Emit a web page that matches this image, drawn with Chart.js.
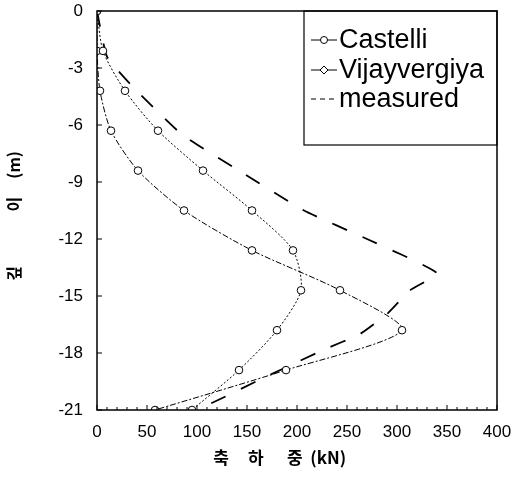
<!DOCTYPE html>
<html>
<head>
<meta charset="utf-8">
<script src="https://cdn.jsdelivr.net/npm/chart.js@4.4.1/dist/chart.umd.min.js"></script>
<style>
  html, body { margin: 0; padding: 0; background: #fff; }
  #wrap { width: 530px; height: 486px; position: relative; }
</style>
</head>
<body>
<div id="wrap"><canvas id="loadChart"></canvas></div>
<script>
// depth of each calculated point (m)
const depths = [0, -2.1, -4.2, -6.3, -8.4, -10.5, -12.6, -14.7, -16.8, -18.9, -21];
// axial load (kN) by method
const castelliLoad = [0, 6, 28, 61, 106, 155, 196, 204, 180, 142, 95];
const vijayLoad = [0, 0, 3, 14, 41, 87, 155, 243, 305, 189, 58];
// measured profile
const measuredLoad = [0, 10, 36, 85, 145, 207, 270, 340, 313, 291, 263, 228, 163, 128, 100];
const measuredDepth = [0, -2.4, -4, -6.5, -8.5, -10.5, -12, -13.8, -14.7, -15.9, -17, -17.8, -19.4, -20.3, -21];
// axis ticks
const xTicks = [0, 50, 100, 150, 200, 250, 300, 350, 400];
const yTicks = [0, -3, -6, -9, -12, -15, -18, -21];
const seriesNames = ['Castelli', 'Vijayvergiya', 'measured'];

function toPoints(xs, ys) {
  return xs.map((x, i) => ({ x: x, y: ys[i] }));
}

// frame around plot area plus small inward ticks
const framePlugin = {
  id: 'frame',
  afterDraw(chart) {
    const { ctx, chartArea: a, scales } = chart;
    ctx.save();
    ctx.strokeStyle = '#000';
    ctx.lineWidth = 1.5;
    ctx.strokeRect(a.left, a.top, a.right - a.left, a.bottom - a.top);
    ctx.lineWidth = 1;
    ctx.beginPath();
    for (let v = 0; v <= 400; v += 10) {
      const px = scales.x.getPixelForValue(v);
      const len = v % 50 === 0 ? 5 : 3;
      ctx.moveTo(px, a.bottom);
      ctx.lineTo(px, a.bottom - len);
    }
    yTicks.forEach(v => {
      const py = scales.y.getPixelForValue(v);
      ctx.moveTo(a.left, py);
      ctx.lineTo(a.left + 5, py);
    });
    ctx.stroke();
    ctx.restore();
  }
};

// boxed legend inside the top right corner
const boxLegend = {
  id: 'boxLegend',
  afterDraw(chart) {
    const { ctx, chartArea: a } = chart;
    const left = 304, top = a.top, right = a.right, bottom = 145;
    ctx.save();
    ctx.strokeStyle = '#000';
    ctx.lineWidth = 1.2;
    ctx.strokeRect(left, top, right - left, bottom - top);
    const rows = [40, 70, 99];
    chart.data.datasets.forEach((ds, i) => {
      const y = rows[i];
      ctx.lineWidth = 1;
      ctx.setLineDash(i === 2 ? [5, 4] : []);
      ctx.beginPath();
      ctx.moveTo(311, y);
      ctx.lineTo(337, y);
      ctx.stroke();
      ctx.setLineDash([]);
      if (i === 0) {
        ctx.fillStyle = '#fff';
        ctx.beginPath();
        ctx.arc(324, y, 3.5, 0, Math.PI * 2);
        ctx.fill();
        ctx.stroke();
      } else if (i === 1) {
        ctx.fillStyle = '#fff';
        ctx.beginPath();
        ctx.moveTo(324, y - 4);
        ctx.lineTo(328, y);
        ctx.lineTo(324, y + 4);
        ctx.lineTo(320, y);
        ctx.closePath();
        ctx.fill();
        ctx.stroke();
      }
      ctx.fillStyle = '#000';
      ctx.font = '27px "Liberation Sans", Arial, sans-serif';
      ctx.textBaseline = 'middle';
      ctx.fillText(ds.label, 339, y + 1);
    });
    ctx.restore();
  }
};

new Chart(document.getElementById('loadChart'), {
  type: 'scatter',
  data: {
    datasets: [
      {
        label: seriesNames[0],
        data: toPoints(castelliLoad, depths),
        showLine: true,
        borderColor: '#000',
        borderWidth: 1,
        borderDash: [2, 2],
        tension: 0.25,
        pointStyle: 'circle',
        pointRadius: 3.8,
        pointBackgroundColor: '#fff',
        pointBorderColor: '#000',
        pointBorderWidth: 1
      },
      {
        label: seriesNames[1],
        data: toPoints(vijayLoad, depths),
        showLine: true,
        borderColor: '#000',
        borderWidth: 1,
        borderDash: [6, 2, 2, 2],
        tension: 0.25,
        pointStyle: 'circle',
        pointRadius: 3.8,
        pointBackgroundColor: '#fff',
        pointBorderColor: '#000',
        pointBorderWidth: 1
      },
      {
        label: seriesNames[2],
        data: toPoints(measuredLoad, measuredDepth),
        showLine: true,
        borderColor: '#000',
        borderWidth: 1.8,
        borderDash: [16, 17],
        tension: 0.15,
        pointRadius: 0
      }
    ]
  },
  options: {
    responsive: true,
    maintainAspectRatio: false,
    animation: false,
    layout: { padding: { top: 0, right: 33, left: 0, bottom: 0 } },
    plugins: {
      legend: { display: false },
      tooltip: { enabled: false }
    },
    scales: {
      x: {
        type: 'linear',
        min: 0,
        max: 400,
        afterBuildTicks: s => { s.ticks = xTicks.map(v => ({ value: v })); },
        afterFit: s => { s.height = 76; },
        grid: { display: false, drawTicks: false },
        border: { display: false },
        ticks: {
          color: '#000',
          padding: 12,
          font: { family: '"Liberation Sans", Arial, sans-serif', size: 17 }
        },
        title: {
          display: true,
          text: '축     하      중  (kN)         ',
          color: '#000',
          font: { family: '"Noto Sans CJK KR", sans-serif', size: 17, weight: 'bold' },
          padding: { top: 0, bottom: 18 }
        }
      },
      y: {
        type: 'linear',
        min: -21,
        max: 0,
        afterBuildTicks: s => { s.ticks = yTicks.map(v => ({ value: v })); },
        afterFit: s => {
          s.width = 97;
          s.paddingTop = 11;
          s.paddingBottom = 0;
        },
        grid: { display: false, drawTicks: false },
        border: { display: false },
        ticks: {
          color: '#000',
          padding: 14,
          font: { family: '"Liberation Sans", Arial, sans-serif', size: 17 }
        },
        title: {
          display: true,
          text: '깊               이     (m)   ',
          color: '#000',
          font: { family: '"Noto Sans CJK KR", sans-serif', size: 16, weight: 'bold' },
          padding: { top: 4, bottom: 0 }
        }
      }
    }
  },
  plugins: [framePlugin, boxLegend]
});
</script>
</body>
</html>
